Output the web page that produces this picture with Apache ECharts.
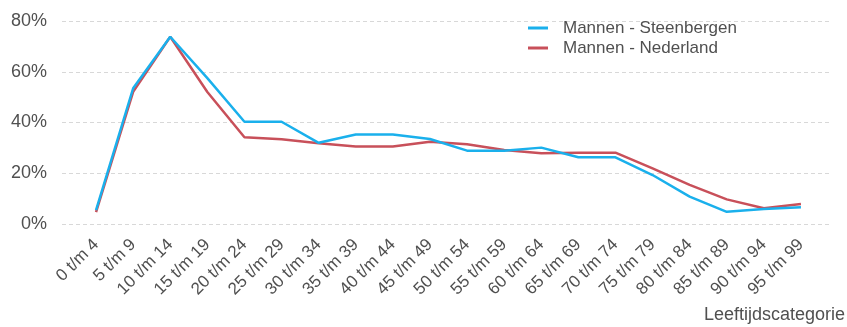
<!DOCTYPE html>
<html>
<head>
<meta charset="utf-8">
<script src="https://cdn.jsdelivr.net/npm/echarts@6/dist/echarts.min.js"></script>
<style>
  html, body { margin: 0; padding: 0; background: #fff; }
  #chart { width: 847px; height: 327px; }
</style>
</head>
<body>
<div id="chart"></div>
<script>
// Age categories (Leeftijdscategorie)
const categories = [
  '0 t/m 4', '5 t/m 9', '10 t/m 14', '15 t/m 19', '20 t/m 24',
  '25 t/m 29', '30 t/m 34', '35 t/m 39', '40 t/m 44', '45 t/m 49',
  '50 t/m 54', '55 t/m 59', '60 t/m 64', '65 t/m 69', '70 t/m 74',
  '75 t/m 79', '80 t/m 84', '85 t/m 89', '90 t/m 94', '95 t/m 99'
];

// Percentages per age category
const steenbergen = [5.5, 53.5, 73.8, 57.5, 40.3, 40.3, 32.0, 35.3, 35.3, 33.5,
                     28.9, 28.9, 30.1, 26.3, 26.3, 19.3, 10.8, 4.8, 5.9, 6.6];
const nederland   = [4.7, 52.1, 73.8, 52.0, 34.2, 33.4, 31.8, 30.5, 30.5, 32.4,
                     31.4, 29.2, 27.9, 28.1, 28.1, 21.9, 15.4, 9.7, 6.2, 7.9];

const seriesNames = ['Mannen - Steenbergen', 'Mannen - Nederland'];
const yTicks = [0, 20, 40, 60, 80];

const FONT = '"Liberation Sans", Arial, sans-serif';
const TEXT = '#505050';
const BLUE = '#1ab0ec';
const RED = '#c8505a';

const chart = echarts.init(document.getElementById('chart'));

chart.setOption({
  backgroundColor: '#fff',
  animation: false,
  title: {
    text: 'Leeftijdscategorie',
    right: 2,
    top: 306,
    padding: 0,
    textStyle: { fontFamily: FONT, fontSize: 18, fontWeight: 'normal', color: TEXT }
  },
  legend: {
    data: seriesNames,
    orient: 'vertical',
    left: 523,
    top: 13,
    icon: 'rect',
    itemWidth: 20,
    itemHeight: 3,
    itemGap: 0,
    textStyle: {
      fontFamily: FONT, fontSize: 17, color: TEXT,
      lineHeight: 20, padding: [0, 0, 0, 10]
    }
  },
  grid: [
    // gridline area
    { left: 62, right: 16, top: 21, bottom: 103 },
    // data area
    { left: 77.5, right: 27.5, top: 21, bottom: 103 }
  ],
  xAxis: [
    { type: 'value', gridIndex: 0, show: false, min: 0, max: 1 },
    {
      type: 'category',
      gridIndex: 1,
      data: categories,
      boundaryGap: true,
      axisLine: { show: false },
      axisTick: { show: false },
      axisLabel: {
        rotate: 45,
        interval: 0,
        margin: 18,
        fontFamily: FONT,
        fontSize: 17,
        color: TEXT
      }
    }
  ],
  yAxis: [
    {
      type: 'value',
      gridIndex: 0,
      min: yTicks[0],
      max: yTicks[yTicks.length - 1],
      interval: 20,
      axisLine: { show: false },
      axisTick: { show: false },
      axisLabel: {
        formatter: '{value}%',
        margin: 15,
        fontFamily: FONT,
        fontSize: 18,
        color: TEXT
      },
      splitLine: { lineStyle: { color: '#d8d8d8', type: [4, 3], width: 1 } }
    },
    {
      type: 'value',
      gridIndex: 1,
      min: yTicks[0],
      max: yTicks[yTicks.length - 1],
      show: false,
      splitLine: { show: false }
    }
  ],
  series: [
    {
      name: seriesNames[1],
      type: 'line',
      xAxisIndex: 1,
      yAxisIndex: 1,
      data: nederland,
      symbol: 'none',
      color: RED,
      lineStyle: { color: RED, width: 2.5 },
      z: 2
    },
    {
      name: seriesNames[0],
      type: 'line',
      xAxisIndex: 1,
      yAxisIndex: 1,
      data: steenbergen,
      symbol: 'none',
      color: BLUE,
      lineStyle: { color: BLUE, width: 2.5 },
      z: 3
    }
  ]
});
</script>
</body>
</html>
